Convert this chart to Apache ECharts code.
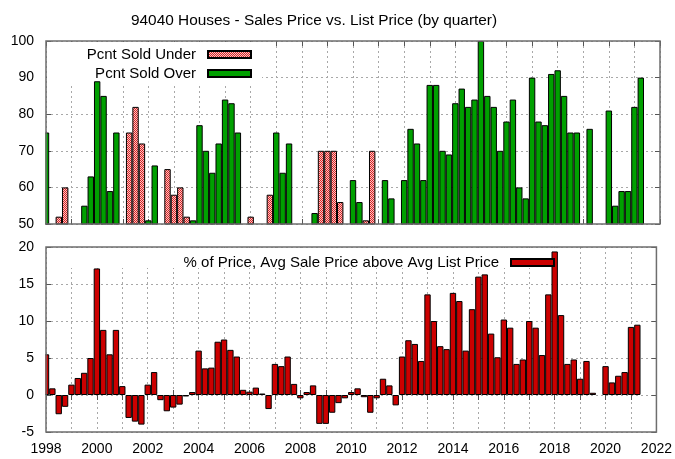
<!DOCTYPE html>
<html><head><meta charset="utf-8">
<script src="https://cdn.jsdelivr.net/npm/echarts@6/dist/echarts.min.js"></script>
<style>html,body{margin:0;padding:0;background:#fff}#c{width:675px;height:459px}</style>
</head><body><div id="c"></div>
<script>
// ---- data (one value per quarter, starting 1998 Q1) ----
const startYear = 1998;
const endYear = 2022;
const pctSoldUnder = [
  null,null,52,60,null,null,null,null,null,null,
  null,null,null,75,82,72,null,null,null,65,
  58,60,52,null,null,null,null,null,null,null,
  null,null,52,null,null,58,null,null,null,null,
  null,null,null,70,70,70,56,null,null,null,
  51,70,null,null,null,null,null,null,null,null,
  null,null,null,null,null,null,null,null,null,null,
  null,null,null,null,null,null,null,null,null,null,
  null,null,null,null,null,null,null,null,null,null,
  null,null,null,null
];
const pctSoldOver = [
  75,null,null,null,null,null,55,63,89,85,
  59,75,null,null,null,null,51,66,null,null,
  null,null,null,51,77,70,64,72,84,83,
  75,null,null,null,null,null,75,64,72,null,
  null,null,53,null,null,null,null,null,62,56,
  null,null,null,62,57,null,62,76,72,62,
  88,88,70,69,83,87,82,84,100,85,
  82,70,78,84,60,57,90,78,77,91,
  92,85,75,75,null,76,null,null,81,55,
  59,59,82,90
];
const pctAbove = [
  5.5,0.9,-2.6,-1.6,1.4,2.3,3.0,5.0,17.1,8.8,
  5.5,8.8,1.2,-3.1,-3.6,-4.0,1.4,3.1,-0.7,-2.2,
  -1.7,-1.3,-0.2,0.4,6.0,3.6,3.7,7.2,7.5,6.1,
  5.2,0.7,0.45,1.0,0.2,-1.9,4.2,3.9,5.2,1.5,
  -0.45,0.4,1.3,-3.9,-3.9,-2.4,-1.1,-0.45,0.4,0.9,
  -0.3,-2.4,-0.45,2.2,1.3,-1.4,5.2,7.4,6.9,4.6,
  13.6,10.0,6.6,6.2,13.8,12.7,6.0,11.6,16.0,16.3,
  8.3,5.1,10.2,9.1,4.2,4.8,10.0,9.1,5.4,13.6,
  19.4,10.8,4.2,4.8,2.2,4.6,0.3,null,3.9,1.7,
  2.6,3.1,9.2,9.5
];
const topTicks = [50,100,10];
const botTicks = [-5,20,5];

// quarter categories 1998 Q1 ... 2022 Q1 (axis runs from 1998 to 2022)
const quarters = [];
for (let y = startYear; y <= endYear; y++) {
  for (let q = 1; q <= 4; q++) {
    if (y === endYear && q > 1) break;
    quarters.push(q === 1 ? String(y) : y + 'Q' + q);
  }
}

// hatch pattern
const pc = document.createElement('canvas'); pc.width = 4; pc.height = 4;
const cx = pc.getContext('2d');
cx.fillStyle = '#fbc4c4'; cx.fillRect(0,0,4,4);
cx.fillStyle = '#d82424';
for (let y=0;y<4;y++) for (let x=0;x<4;x++) if ((x+y)%2===0) cx.fillRect(x,y,1,1);

const FONT = 'Liberation Sans, Arial, sans-serif';
const gridLineX = {show:true, interval:3, lineStyle:{color:'#a8a8a8', type:[2,3], width:1}};
const gridLineY = {show:true, lineStyle:{color:'#a8a8a8', type:[2,3], width:1}};
const tickX = {show:true, inside:true, length:5, interval:3, lineStyle:{color:'#555'}};
const tickY = {show:true, inside:true, length:5, lineStyle:{color:'#555'}};
const lbl = {color:'#000', fontSize:14, fontFamily:FONT};

function xAx(g, pos, labels, split) {
  return {type:'category', gridIndex:g, position:pos, data:quarters, boundaryGap:false,
    axisLine:{show:false}, axisTick:tickX, splitLine: split ? gridLineX : {show:false},
    axisLabel: labels ? Object.assign({margin:10, interval:7, showMinLabel:true, showMaxLabel:true}, lbl) : {show:false}};
}
function yAx(g, pos, t, labels, split) {
  return {type:'value', gridIndex:g, position:pos, min:t[0], max:t[1], interval:t[2],
    axisLine:{show:false}, axisTick:tickY, splitLine: split ? gridLineY : {show:false},
    axisLabel: labels ? Object.assign({margin:12}, lbl) : {show:false}};
}
const legendBase = {orient:'horizontal', align:'right', padding:0, itemWidth:43, itemHeight:7, icon:'rect',
  textStyle:{fontSize:15, fontFamily:FONT, color:'#000', padding:[0,7,0,0]}};
const gridFrame = {show:true, z:4, borderColor:'#6e6e6e', borderWidth:1.5, backgroundColor:'transparent'};

const chart = echarts.init(document.getElementById('c'), null, {renderer:'canvas'});
chart.setOption({
  animation:false,
  backgroundColor:'#fff',
  title:{text:'94040 Houses - Sales Price vs. List Price (by quarter)', left:126, top:8,
    textStyle:{fontSize:15.4, fontWeight:'normal', color:'#000', fontFamily:FONT}},
  grid:[
    Object.assign({left:46, right:15, top:41, height:183}, gridFrame),
    Object.assign({left:46, right:15, top:247, height:185}, gridFrame)
  ],
  graphic:[
    {type:'rect', z:1, shape:{x:47, y:42, width:215, height:41}, style:{fill:'#fff'}, silent:true},
    {type:'rect', z:1, shape:{x:47, y:248, width:518, height:20}, style:{fill:'#fff'}, silent:true},
    {type:'rect', z:3, shape:{x:37, y:36, width:8.3, height:192}, style:{fill:'#fff'}, silent:true},
    {type:'rect', z:3, shape:{x:37, y:242, width:8.3, height:194}, style:{fill:'#fff'}, silent:true}
  ],
  legend:[
    Object.assign({data:['Pcnt Sold Under'], right:423, top:47}, legendBase),
    Object.assign({data:['Pcnt Sold Over'], right:423, top:66}, legendBase),
    Object.assign({data:['% of Price, Avg Sale Price above Avg List Price'], right:120, top:255}, legendBase)
  ],
  xAxis:[ xAx(0,'bottom',false,true), xAx(0,'top',false,false), xAx(1,'bottom',true,true), xAx(1,'top',false,false) ],
  yAxis:[ yAx(0,'left',topTicks,true,true), yAx(0,'right',topTicks,false,false), yAx(1,'left',botTicks,true,true), yAx(1,'right',botTicks,false,false) ],
  series:[
    {name:'Pcnt Sold Under', type:'bar', xAxisIndex:0, yAxisIndex:0, barCategoryGap:'0%', barGap:'-100%',
     itemStyle:{color:{image:pc, repeat:'repeat'}, borderColor:'#000', borderWidth:1}, data:pctSoldUnder},
    {name:'Pcnt Sold Over', type:'bar', xAxisIndex:0, yAxisIndex:0, barCategoryGap:'0%', barGap:'-100%',
     itemStyle:{color:'#00a000', borderColor:'#000', borderWidth:1}, data:pctSoldOver},
    {name:'% of Price, Avg Sale Price above Avg List Price', type:'bar', xAxisIndex:2, yAxisIndex:2, barCategoryGap:'0%',
     itemStyle:{color:'#cc0000', borderColor:'#000', borderWidth:1}, data:pctAbove}
  ]
});
</script></body></html>
